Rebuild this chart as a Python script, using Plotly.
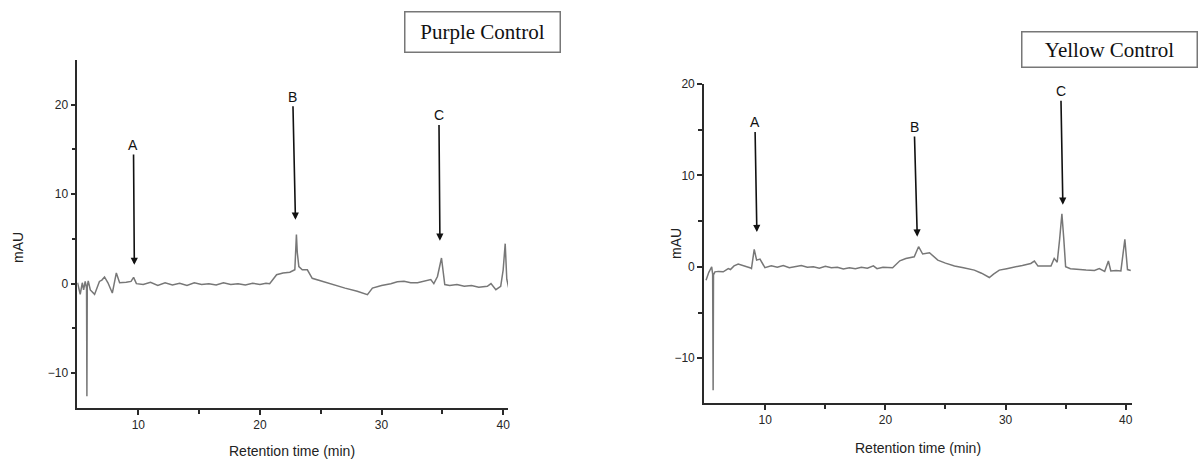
import plotly.graph_objects as go

# ---------------- data ----------------
purple_points = [
    (5.0, 0.1), (5.22, -1.2), (5.39, 0.1), (5.5, -0.7), (5.63, 0.25), (5.74, -0.5),
    (5.77, -12.6), (5.8, -0.3), (5.88, 0.3), (6.05, -0.7), (6.4, -1.2), (6.8, 0.25),
    (7.0, 0.4), (7.22, 0.75), (7.5, 0.1), (7.86, -1.05), (8.19, 1.2), (8.46, 0.1),
    (9.0, 0.15), (9.4, 0.25), (9.61, 0.7), (9.84, 0.0), (10.4, -0.1), (11.0, 0.15),
    (11.6, -0.2), (12.2, 0.1), (12.8, -0.15), (13.4, 0.05), (14.0, -0.2), (14.6, 0.1),
    (15.2, -0.1), (15.8, 0.0), (16.4, -0.15), (17.0, 0.1), (17.6, -0.1), (18.2, 0.0),
    (18.8, -0.15), (19.4, 0.05), (20.0, -0.1), (20.5, 0.05), (20.8, 0.0), (21.37, 1.0),
    (21.9, 1.2), (22.46, 1.27), (22.87, 1.55), (22.95, 3.5), (23.0, 5.5), (23.07, 3.5),
    (23.2, 1.9), (23.48, 1.55), (23.9, 1.55), (24.3, 0.6), (25.0, 0.3), (26.0, -0.1),
    (27.0, -0.5), (28.0, -0.85), (28.84, -1.23), (29.25, -0.5), (30.0, -0.2), (30.76, 0.0),
    (31.3, 0.2), (31.85, 0.27), (32.4, 0.1), (32.96, 0.1), (33.5, 0.3), (34.05, 0.45),
    (34.3, 0.0), (34.6, 0.8), (34.93, 2.87), (35.2, -0.1), (35.6, -0.2), (36.2, -0.1),
    (36.8, -0.3), (37.4, -0.2), (38.0, -0.4), (38.7, -0.3), (39.0, 0.0), (39.4, -0.67),
    (39.8, -0.3), (40.0, 1.5), (40.17, 4.47), (40.3, 0.5), (40.5, -0.75),
]

yellow_points = [
    (5.07, -1.46), (5.3, -0.6), (5.54, 0.0), (5.62, -0.8), (5.66, -13.5), (5.69, -0.9),
    (5.81, -0.55), (6.1, -0.5), (6.5, -0.55), (6.92, -0.2), (7.1, -0.3), (7.4, 0.1),
    (7.75, 0.3), (8.2, 0.15), (8.72, -0.1), (8.85, -0.2), (9.08, 1.9), (9.28, 0.73),
    (9.56, 0.85), (9.97, -0.1), (10.5, 0.1), (11.0, -0.05), (11.5, 0.15), (12.0, -0.1),
    (12.5, 0.05), (13.0, 0.15), (13.5, -0.05), (14.0, 0.0), (14.5, -0.15), (15.0, 0.05),
    (15.5, -0.1), (16.0, -0.05), (16.5, -0.25), (17.0, -0.1), (17.5, -0.2), (18.0, -0.05),
    (18.5, -0.15), (19.0, 0.1), (19.3, -0.2), (19.8, -0.05), (20.6, -0.1), (21.2, 0.66),
    (21.7, 0.9), (22.4, 1.1), (22.76, 2.2), (23.1, 1.4), (23.67, 1.54), (24.36, 0.73),
    (25.0, 0.4), (25.75, 0.08), (26.5, -0.1), (27.4, -0.36), (28.0, -0.7), (28.65, -1.17),
    (29.0, -0.8), (29.48, -0.36), (30.1, -0.2), (30.73, -0.07), (31.4, 0.15), (32.1, 0.37),
    (32.4, 0.63), (32.7, 0.08), (33.2, 0.1), (33.78, 0.08), (34.05, 0.92), (34.3, 0.5),
    (34.5, 3.0), (34.69, 5.8), (34.85, 3.0), (35.0, 0.0), (35.4, -0.2), (36.0, -0.3),
    (36.7, -0.35), (37.4, -0.4), (37.8, -0.2), (38.25, -0.5), (38.56, 0.63), (38.76, -0.45),
    (39.2, -0.4), (39.6, -0.45), (39.93, 3.0), (40.15, -0.3), (40.42, -0.4),
]

# peak labels: (label, head_x, head_y, text_x, text_y)
purple_peaks = [("A", 9.67, 2.1, 9.6, 15.5), ("B", 22.92, 7.15, 22.7, 20.9), ("C", 34.8, 4.8, 34.72, 18.8)]
yellow_peaks = [("A", 9.3, 3.8, 9.14, 15.8), ("B", 22.65, 3.3, 22.4, 15.3), ("C", 34.77, 6.8, 34.6, 19.2)]

x_tickvals = [10, 20, 30, 40]
y_tickvals = [-10, 0, 10, 20]

FONT = "Liberation Sans, Arial, sans-serif"
SERIF = "Liberation Serif, Times New Roman, serif"
LINE = "#777777"
AX = "#2a2a2a"

fig = go.Figure()
fig.add_trace(go.Scatter(x=[p[0] for p in purple_points], y=[p[1] for p in purple_points],
                         mode="lines", line=dict(color=LINE, width=1.5),
                         xaxis="x", yaxis="y", showlegend=False, hoverinfo="skip"))
fig.add_trace(go.Scatter(x=[p[0] for p in yellow_points], y=[p[1] for p in yellow_points],
                         mode="lines", line=dict(color=LINE, width=1.5),
                         xaxis="x2", yaxis="y2", showlegend=False, hoverinfo="skip"))

def xax(domain, rng):
    return dict(domain=domain, range=rng, tickvals=x_tickvals, ticks="outside", ticklen=5,
                tickwidth=1.5, tickcolor=AX, showline=True, linecolor=AX, linewidth=1.6,
                showgrid=False, zeroline=False, automargin=False,
                minor=dict(tickvals=[15, 25, 35], ticks="outside", ticklen=4, tickcolor=AX, tickwidth=1.5, showgrid=False),
                tickfont=dict(family=FONT, size=12, color="#262626"))

def yax(domain, rng, anchor):
    return dict(domain=domain, range=rng, tickvals=y_tickvals, ticks="outside", ticklen=5,
                tickwidth=1.5, tickcolor=AX, showline=True, linecolor=AX, linewidth=1.6,
                showgrid=False, zeroline=False, anchor=anchor, automargin=False,
                minor=dict(tickvals=[-5, 5, 15], ticks="outside", ticklen=4, tickcolor=AX, tickwidth=1.5, showgrid=False),
                tickfont=dict(family=FONT, size=12, color="#262626"))

W, H = 1198, 461
fig.update_layout(
    width=W, height=H, margin=dict(l=0, r=0, t=0, b=0, pad=0, autoexpand=False),
    paper_bgcolor="white", plot_bgcolor="white",
    xaxis=dict(xax([77.3 / W, 508 / W], [4.98, 40.4]), anchor="y"),
    yaxis=yax([1 - 408 / H, 1 - 60 / H], [-13.9, 25], "x"),
    xaxis2=dict(xax([704 / W, 1131.7 / W], [4.9, 40.5]), anchor="y2"),
    yaxis2=yax([1 - 403 / H, 1 - 84 / H], [-14.9, 20], "x2"),
)

ann = []
for peaks, xr, yr in [(purple_peaks, "x", "y"), (yellow_peaks, "x2", "y2")]:
    for lab, hx, hy, tx, ty in peaks:
        ann.append(dict(x=hx, y=hy, ax=tx, ay=ty, xref=xr, yref=yr, axref=xr, ayref=yr,
                        text=lab, showarrow=True, arrowhead=2, arrowsize=0.9, arrowwidth=1.6,
                        arrowcolor="#111", font=dict(family=FONT, size=14, color="#111")))

# boxed titles
ann.append(dict(xref="paper", yref="paper", x=482 / W, y=1 - 32.5 / H, xanchor="center", yanchor="middle",
                text="Purple Control", showarrow=False, font=dict(family=SERIF, size=21, color="#111"),
                bordercolor="#777", borderwidth=1.5, borderpad=1, width=152, height=37, bgcolor="white"))
ann.append(dict(xref="paper", yref="paper", x=1109 / W, y=1 - 50 / H, xanchor="center", yanchor="middle",
                text="Yellow Control", showarrow=False, font=dict(family=SERIF, size=21, color="#111"),
                bordercolor="#777", borderwidth=1.5, borderpad=1, width=172, height=32, bgcolor="white"))

# axis titles
for txt, x, y, ang in [("mAU", 18 / W, 1 - 248 / H, -90), ("mAU", 676 / W, 1 - 244 / H, -90),
                       ("Retention time (min)", 292 / W, 1 - 451 / H, 0),
                       ("Retention time (min)", 917.5 / W, 1 - 448 / H, 0)]:
    ann.append(dict(xref="paper", yref="paper", x=x, y=y, xanchor="center", yanchor="middle",
                    text=txt, showarrow=False, textangle=ang,
                    font=dict(family=FONT, size=14, color="#222")))

fig.update_layout(annotations=ann)
fig.write_html("out.html")
